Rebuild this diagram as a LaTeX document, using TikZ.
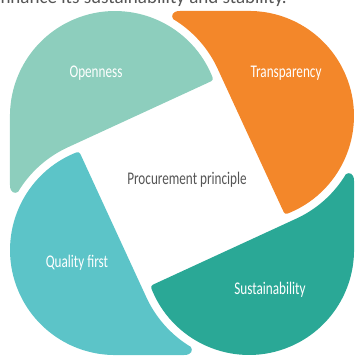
\documentclass[tikz,border=0pt]{standalone}
\usepackage{fontspec}
\newfontfamily\lab{Carlito}[FakeStretch=0.74]
\newfontfamily\toptext{Carlito}
\definecolor{cOpen}{RGB}{141,206,189}
\definecolor{cTrans}{RGB}{243,135,42}
\definecolor{cSust}{RGB}{42,168,150}
\definecolor{cQual}{RGB}{92,196,200}
\definecolor{tgray}{RGB}{85,85,85}
\tikzset{
  petal/.style={insert path={(26.3,100.4) .. controls (31.7,102.9) .. (29.4,108.5)
    arc[start angle=23.3, end angle=180, radius=105pt] -- (-172,-2)
    .. controls (-172,-10) and (-167,-11) .. (-163.9,-8.8)
    arc[start angle=149, end angle=114, radius=113pt] -- cycle}},
  lbl/.style={font=\lab\fontsize{17.8}{20}\selectfont, text=white, inner sep=0pt, anchor=base}
}
\begin{document}
\begin{tikzpicture}[x=1pt,y=1pt]
\path[use as bounding box] (-182,-175) rectangle (173,183);
\clip (-182,-175) rectangle (173,183);
\fill[cOpen, petal];
\fill[cTrans, rotate=-90, petal];
\fill[cSust, rotate=180, petal];
\fill[cQual, rotate=90, petal];
\node[lbl] (open) at (-86,105.5) {Openness};
\node[lbl] (trans) at (104,105.7) {Transparency};
\node[lbl] (qual) at (-105,-84.7) {Quality first};
\node[lbl] (sust) at (88,-111) {Sustainability};
\node[lbl, text=tgray] (center) at (5,-1.3) {Procurement principle};
\node[inner sep=0pt, text=tgray, anchor=base east, font=\toptext\fontsize{19}{22}\selectfont] (top) at (105,179) {enhance its sustainability and stability.};
\end{tikzpicture}
\end{document}
